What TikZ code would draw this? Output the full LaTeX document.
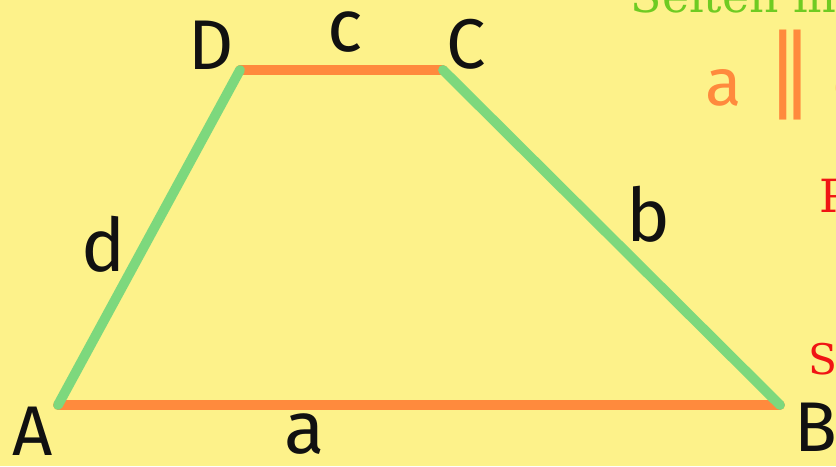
\documentclass[tikz,border=0pt]{standalone}
\usepackage{fontspec}
\setmainfont{Fira Sans}
\newfontfamily\notefont{DejaVu Serif}
\newfontfamily\symfont{DejaVu Sans}
\usepackage{tikz}
\usetikzlibrary{positioning}
\definecolor{trfond}{HTML}{FDF28A}
\definecolor{trvert}{HTML}{7DD87D}
\definecolor{trorange}{HTML}{FF8A3D}
\definecolor{trnoir}{HTML}{111111}
\definecolor{trvertclair}{HTML}{6FCB22}
\definecolor{trrouge}{HTML}{F01414}
\begin{document}
\begin{tikzpicture}[x=0.01cm,y=-0.01cm,
  seite/.style={line width=2.8pt,line cap=round},
  par/.style={seite,trorange}, schenkel/.style={seite,trvert},
  ecke/.style={font=\fontsize{20}{24}\selectfont,text=trnoir,inner sep=0pt},
  seitenname/.style={font=\fontsize{21}{25}\selectfont,text=trnoir,inner sep=0pt},
  notiz/.style={font=\notefont\fontsize{13}{15}\selectfont,inner sep=0pt,anchor=base west}]
  \fill[trfond] (0,0) rectangle (836,466);
  \clip (0,0) rectangle (836,466);
  \coordinate (A) at (58,405);
  \coordinate (B) at (780,405);
  \coordinate (C) at (443,70);
  \coordinate (D) at (240,70);
  % seiten
  \draw[par] (A) -- (B);
  \draw[par] (D) -- (C);
  \draw[schenkel] (A) -- (D);
  \draw[schenkel] (B) -- (C);
  % eckpunkte
  \node[ecke] (lA) at (33,431) {A};
  \node[ecke] (lB) at (816,427) {B};
  \node[ecke] (lC) at (466,44) {C};
  \node[ecke] (lD) at (211,45) {D};
  % seitennamen
  \node[seitenname] (la) at (305,434) {a};
  \node[seitenname] (lb) at (648,214) {b};
  \node[seitenname] (lc) at (345,32) {c};
  \node[seitenname] (ld) at (104,244) {d};
  % notizen rechts (abgeschnitten)
  \node[notiz,text=trvertclair] (seiten) at (630,12) {Seiten im};
  \node[seitenname,text=trorange,font=\fontsize{19}{22}\selectfont] (pa) at (724,88) {a};
  \node[seitenname,text=trorange,font=\symfont\fontsize{26}{30}\selectfont] (pp) at (790,75) {∥};
  \node[seitenname,text=trorange,anchor=west,font=\fontsize{19}{22}\selectfont] (pc) at (832,88) {c};
  \node[notiz,text=trrouge] (punkt) at (819,212) {P};
  \node[notiz,text=trrouge,font=\notefont\fontsize{12}{14}\selectfont] (sym) at (808,374) {Sy};
\end{tikzpicture}
\end{document}
